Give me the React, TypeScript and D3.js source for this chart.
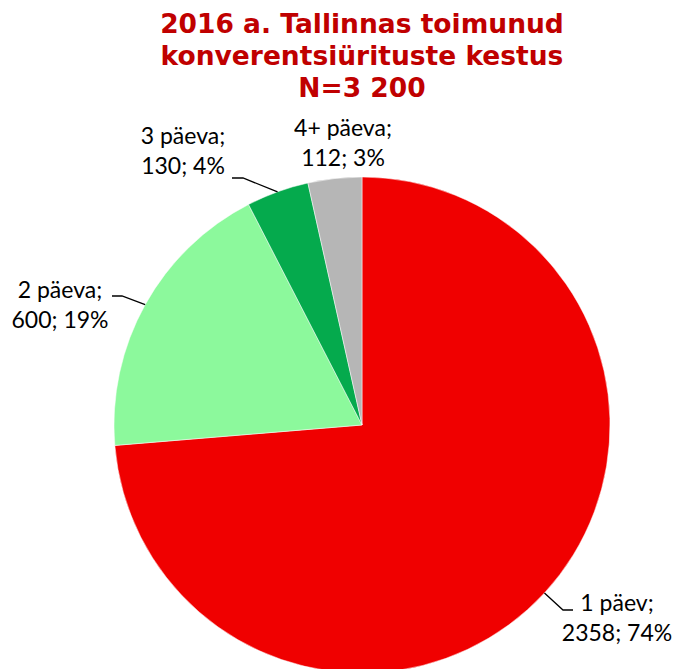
import React from "react";
import * as d3 from "d3";

const categories = ["1 päev", "2 päeva", "3 päeva", "4+ päeva"];
const values = [2358, 600, 130, 112];
const percents = ["74%", "19%", "4%", "3%"];
const colors = ["#F00000", "#8CF99C", "#05AA4D", "#B6B6B6"];
const titleLines = ["2016 a. Tallinnas toimunud", "konverentsiürituste kestus", "N=3 200"];

const W = 675, H = 669;
const cx = 362, cy = 425, R = 248;

const labelPos: { x: number; y: number; anchor: string; leader: [number, number][] | null }[] = [
  { x: 617, y: 611, anchor: "middle", leader: [[573, 610], [563, 610]] },
  { x: 60, y: 298, anchor: "middle", leader: [[112, 296], [122, 296]] },
  { x: 183, y: 144, anchor: "middle", leader: [[232, 178], [243, 178]] },
  { x: 343, y: 136, anchor: "middle", leader: null },
];

export default function App() {
  const pie = d3.pie<number>().sort(null).value((d) => d);
  const arcs = pie(values);
  const arcGen = d3.arc<d3.PieArcDatum<number>>().innerRadius(0).outerRadius(R);
  const edgeArc = d3.arc<d3.PieArcDatum<number>>().innerRadius(R).outerRadius(R);

  return (
    <svg width={W} height={H} style={{ position: "absolute", left: 0, top: 0 }}>
      <rect width={W} height={H} fill="#fff" />
      {titleLines.map((t, i) => (
        <text key={i} x={362} y={33 + i * 32} textAnchor="middle" fontFamily="DejaVu Sans" fontWeight="bold" fontSize={26.5} fill="#C00000">
          {t}
        </text>
      ))}
      <g transform={`translate(${cx},${cy})`}>
        {arcs.map((a, i) => (
          <path key={i} d={arcGen(a) || ""} fill={colors[i]} stroke="#fff" strokeWidth={0.5} />
        ))}
      </g>
      {arcs.map((a, i) => {
        const lp = labelPos[i];
        const [ex, ey] = edgeArc.centroid(a);
        const pts = lp.leader ? [...lp.leader, [cx + ex, cy + ey]] : null;
        return (
          <g key={i}>
            {pts && (
              <path d={d3.line()(pts as [number, number][]) || ""} fill="none" stroke="#000" strokeWidth={1.3} />
            )}
            <text x={lp.x} y={lp.y} textAnchor={lp.anchor} fontFamily="Lato" fontSize={23} fill="#000">
              <tspan x={lp.x}>{categories[i]};</tspan>
              <tspan x={lp.x} dy={30}>{values[i]}; {percents[i]}</tspan>
            </text>
          </g>
        );
      })}
    </svg>
  );
}
